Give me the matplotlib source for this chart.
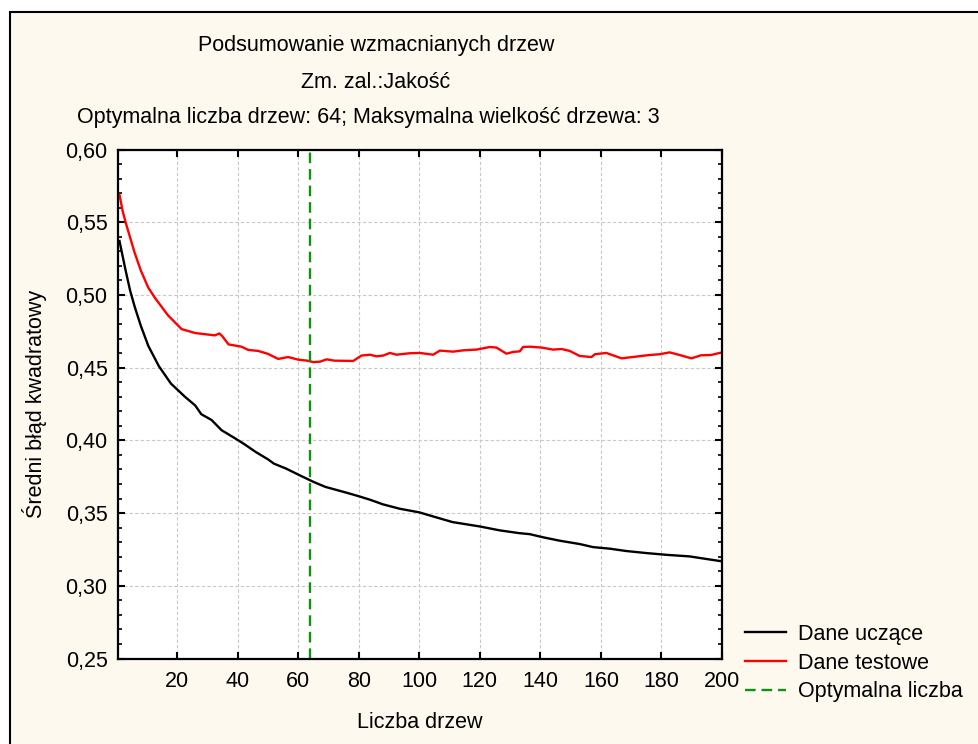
import numpy as np
import matplotlib.pyplot as plt
from matplotlib.patches import Rectangle

# --- DATA ---
train_x = [1, 2, 3, 4.5, 6, 8, 10.5, 14, 18, 22.6, 26, 28, 31.4, 34.7, 39, 42, 46, 50, 52, 56,
           60.5, 65, 69, 76, 80, 84, 88, 93.5, 100, 105.7, 111, 120, 126.6, 133, 136.5, 141,
           146.4, 153, 157.4, 163, 168.4, 175, 181.6, 189.3, 193.7, 200]
train_y = [0.537, 0.527, 0.517, 0.503, 0.492, 0.479, 0.465, 0.451, 0.439, 0.430, 0.424, 0.418,
           0.414, 0.407, 0.4016, 0.3977, 0.392, 0.387, 0.384, 0.3806, 0.376, 0.3715, 0.368,
           0.364, 0.3616, 0.359, 0.356, 0.353, 0.3505, 0.347, 0.3438, 0.3408, 0.3381, 0.3362,
           0.3355, 0.3333, 0.331, 0.3287, 0.3266, 0.3255, 0.3239, 0.3225, 0.3213, 0.3202,
           0.3188, 0.3168]

test_x = [1, 2, 3, 4, 5, 6, 8, 10.5, 12.7, 17, 21.5, 26, 30, 32.5, 34, 35, 37, 41.3, 43.5, 46.8,
          50, 53.4, 56.7, 60, 63, 65, 67.2, 69.4, 72, 78.2, 80.9, 83.7, 85.9, 88.1, 90.3, 92.5,
          96.9, 100.2, 104.6, 106.8, 111.2, 114.5, 118.9, 123.3, 125.5, 128.8, 131, 133.2,
          134.3, 136.5, 140.4, 144.2, 147, 149.7, 153, 156.9, 158, 161.8, 166.8, 171.7, 176.1,
          179.4, 182.7, 186, 189.9, 193.1, 196.4, 200]
test_y = [0.569, 0.558, 0.550, 0.543, 0.536, 0.529, 0.517, 0.505, 0.498, 0.486, 0.4765, 0.4738,
          0.4728, 0.4722, 0.4735, 0.4715, 0.466, 0.4644, 0.4622, 0.4615, 0.4595, 0.456, 0.4573,
          0.4555, 0.4548, 0.4538, 0.4541, 0.4557, 0.4548, 0.4546, 0.4583, 0.4589, 0.4578,
          0.4583, 0.4601, 0.4589, 0.4599, 0.4601, 0.4589, 0.4617, 0.461, 0.4619, 0.4624,
          0.4642, 0.4638, 0.4596, 0.4608, 0.4612, 0.4642, 0.4644, 0.4638, 0.4624, 0.4628,
          0.4615, 0.458, 0.4573, 0.4592, 0.4601, 0.4564, 0.4576, 0.4587, 0.4592, 0.4605,
          0.4587, 0.4564, 0.4585, 0.4587, 0.4605]

optimal_trees = 64
x_ticks = [20, 40, 60, 80, 100, 120, 140, 160, 180, 200]
y_ticks = [0.25, 0.30, 0.35, 0.40, 0.45, 0.50, 0.55, 0.60]

plt.rcParams['font.family'] = ['Liberation Sans', 'DejaVu Sans']
plt.rcParams['font.size'] = 15.5

fig = plt.figure(figsize=(9.79, 7.44), dpi=100, facecolor='white')
fig.patches.append(Rectangle((10 / 979, -0.1), 1.2, 1.1 - 12 / 744, transform=fig.transFigure,
                             facecolor='#FEF9EF', edgecolor='black', linewidth=1.5, zorder=-10))

ax = fig.add_axes([118 / 979, 1 - 658.5 / 744, (722 - 118) / 979, (658.5 - 149.5) / 744])
ax.set_facecolor('white')

ax.plot(train_x, train_y, color='black', lw=1.7, label='Dane uczące')
ax.plot(test_x, test_y, color='#FF0000', lw=1.7, label='Dane testowe')
ax.axvline(optimal_trees, color='#119111', lw=1.7, ls=(0, (4.5, 2.5)), label='Optymalna liczba')

ax.set_xlim(0.5, 200)
ax.set_ylim(0.25, 0.60)
ax.set_xticks(x_ticks)
ax.set_yticks(y_ticks)
ax.set_yticklabels([f'{v:.2f}'.replace('.', ',') for v in y_ticks])
ax.set_yticks(np.arange(0.25, 0.601, 0.01), minor=True)
ax.tick_params(which='major', direction='in', length=5, width=1.5, top=True, right=True,
               labelsize=15.5)
ax.tick_params(axis='x', which='major', pad=9)
ax.tick_params(axis='y', which='major', pad=7.5)
ax.tick_params(which='minor', direction='in', length=3, width=1.2, left=True, right=True)
ax.tick_params(axis='x', which='minor', bottom=False, top=False)
for s in ax.spines.values():
    s.set_linewidth(1.6)
ax.grid(True, which='major', color='#C8C8C8', ls=(0, (3, 2)), lw=0.8)

ax.set_xlabel('Liczba drzew')
ax.xaxis.set_label_coords(0.5, -(711.5 - 658.5) / 509)
ax.set_ylabel('Średni błąd kwadratowy')
ax.yaxis.set_label_coords(-(118 - 47) / 604, 0.5)

fig.text(376 / 979, 1 - 45 / 744, 'Podsumowanie wzmacnianych drzew', ha='center', va='center')
fig.text(376 / 979, 1 - 82 / 744, 'Zm. zal.:Jakość', ha='center', va='center')
fig.text(368 / 979, 1 - 117 / 744, 'Optymalna liczba drzew: 64; Maksymalna wielkość drzewa: 3',
         ha='center', va='center')

fig.legend(loc='upper left', bbox_to_anchor=(745 / 979, 1 - 624 / 744), frameon=False,
           borderaxespad=0, borderpad=0, handlelength=1.9, handletextpad=0.55, labelspacing=0.36)

fig.savefig('out.png', dpi=100, facecolor=fig.get_facecolor())
